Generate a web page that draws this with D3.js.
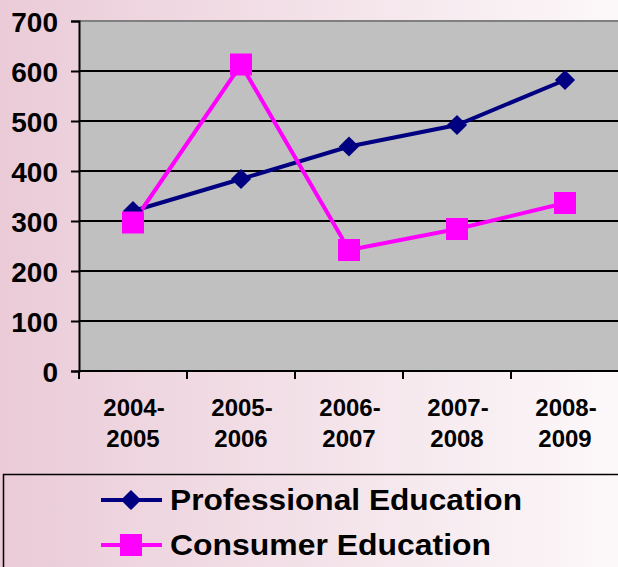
<!DOCTYPE html>
<html>
<head>
<meta charset="utf-8">
<script src="https://cdn.jsdelivr.net/npm/d3@7"></script>
<style>
  html, body { margin: 0; padding: 0; overflow: hidden; }
  text { font-family: "Liberation Sans", Arial, sans-serif; font-weight: bold; fill: #000; }
</style>
</head>
<body>
<div id="chart"></div>
<script>
var years = ["2004-2005", "2005-2006", "2006-2007", "2007-2008", "2008-2009"];
var professional = [320, 384, 449, 492, 582];
var consumer = [297, 613, 242, 284, 336];
var yTicks = [0, 100, 200, 300, 400, 500, 600, 700];
var seriesNames = ["Professional Education", "Consumer Education"];

var W = 618, H = 567;
var svg = d3.select("#chart").append("svg").attr("width", W).attr("height", H);

// pink background fading to the right
var grad = svg.append("defs").append("linearGradient").attr("id", "bg")
  .attr("x1", "0%").attr("x2", "100%").attr("y1", "0%").attr("y2", "0%");
grad.append("stop").attr("offset", "0%").attr("stop-color", "#eacbd7");
grad.append("stop").attr("offset", "100%").attr("stop-color", "#fcf8fa");
svg.append("rect").attr("width", W).attr("height", H).attr("fill", "url(#bg)");

var x = d3.scaleBand().domain(years).range([79, 619]);
var y = d3.scaleLinear().domain([0, 700]).range([371, 21]);

// plot area
svg.append("rect").attr("x", 79).attr("y", y(700)).attr("width", W - 79).attr("height", y(0) - y(700))
  .attr("fill", "#c0c0c0");
svg.append("line").attr("x1", 79).attr("x2", W).attr("y1", y(700)).attr("y2", y(700))
  .attr("stroke", "#808080").attr("stroke-width", 2);

// gridlines
svg.append("g").selectAll("line").data(yTicks.filter(d => d > 0 && d < 700)).join("line")
  .attr("x1", 79).attr("x2", W).attr("y1", d => y(d)).attr("y2", d => y(d))
  .attr("stroke", "#000").attr("stroke-width", 2);

// y axis
var yAxis = svg.append("g").attr("transform", "translate(79,0)")
  .call(d3.axisLeft(y).tickValues(yTicks).tickSize(8).tickPadding(13));
yAxis.selectAll("line, path").attr("stroke", "#000").attr("stroke-width", 2);
yAxis.selectAll("text").style("font-size", "28px").style("font-family", "Liberation Sans, Arial, sans-serif")
  .style("font-weight", "bold").attr("dy", "0.36em");

// x axis with category boundary ticks
var xg = svg.append("g").attr("transform", "translate(0," + y(0) + ")");
xg.append("line").attr("x1", 79).attr("x2", W).attr("stroke", "#000").attr("stroke-width", 2);
xg.selectAll(".tk").data(years.concat(["end"])).join("line").attr("class", "tk")
  .attr("x1", (d, i) => 79 + i * x.step()).attr("x2", (d, i) => 79 + i * x.step())
  .attr("y1", 0).attr("y2", 8).attr("stroke", "#000").attr("stroke-width", 2);
var xl = xg.selectAll(".lbl").data(years).join("text").attr("class", "lbl")
  .attr("text-anchor", "middle").style("font-size", "24px");
xl.append("tspan").attr("x", d => x(d) + x.bandwidth() / 2 + 1).attr("y", 45).text(d => d.split("-")[0] + "-");
xl.append("tspan").attr("x", d => x(d) + x.bandwidth() / 2).attr("y", 76).text(d => d.split("-")[1]);

var line = d3.line().x((d, i) => x(years[i]) + x.bandwidth() / 2).y(d => y(d));
var navy = "#000080", magenta = "#ff00ff";
var diamond = d3.symbol().type(d3.symbolDiamond2).size(260);

svg.append("path").datum(professional).attr("d", line).attr("fill", "none")
  .attr("stroke", navy).attr("stroke-width", 4);
svg.append("path").datum(consumer).attr("d", line).attr("fill", "none")
  .attr("stroke", magenta).attr("stroke-width", 4);

svg.append("g").selectAll("path").data(professional).join("path")
  .attr("transform", (d, i) => "translate(" + (x(years[i]) + x.bandwidth() / 2) + "," + y(d) + ")")
  .attr("d", diamond).attr("fill", navy);
svg.append("g").selectAll("rect").data(consumer).join("rect")
  .attr("x", (d, i) => x(years[i]) + x.bandwidth() / 2 - 11).attr("y", d => y(d) - 11)
  .attr("width", 22).attr("height", 22).attr("fill", magenta);

// legend
var lg = svg.append("g");
lg.append("rect").attr("x", 3.5).attr("y", 474.5).attr("width", W).attr("height", 120)
  .attr("fill", "none").attr("stroke", "#000").attr("stroke-width", 1.5);
var items = [{name: seriesNames[0], color: navy, ly: 500, len: 352},
             {name: seriesNames[1], color: magenta, ly: 545, len: 321}];
items.forEach(function(it, i) {
  lg.append("line").attr("x1", 101).attr("x2", 162).attr("y1", it.ly).attr("y2", it.ly)
    .attr("stroke", it.color).attr("stroke-width", 4);
  if (i === 0) {
    lg.append("path").attr("transform", "translate(131," + it.ly + ")").attr("d", diamond).attr("fill", it.color);
  } else {
    lg.append("rect").attr("x", 120).attr("y", it.ly - 11).attr("width", 22).attr("height", 22).attr("fill", it.color);
  }
  lg.append("text").attr("x", 170).attr("y", it.ly + 10).style("font-size", "30px")
    .attr("textLength", it.len).attr("lengthAdjust", "spacingAndGlyphs").text(it.name);
});
</script>
</body>
</html>
